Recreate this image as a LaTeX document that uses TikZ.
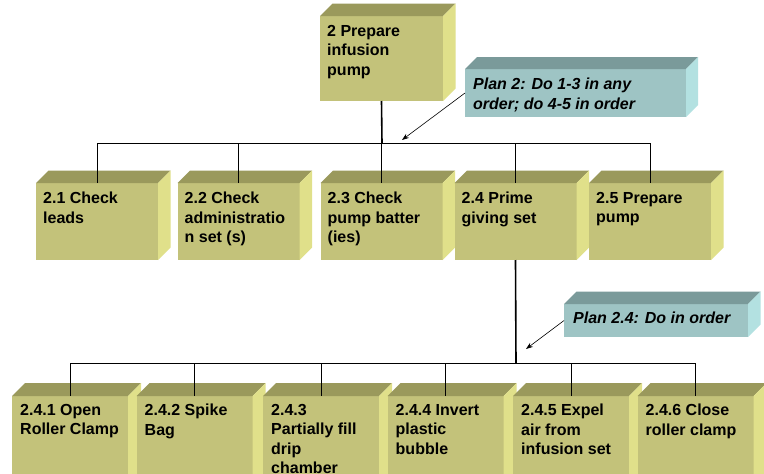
\documentclass[tikz,border=0pt]{standalone}
\usepackage{fontspec}
\setmainfont{Liberation Sans}
\usetikzlibrary{arrows.meta}
\definecolor{olfront}{HTML}{C3C27A}
\definecolor{oltop}{HTML}{9A995C}
\definecolor{olside}{HTML}{E0E08A}
\definecolor{plfront}{HTML}{9EC4C4}
\definecolor{pltop}{HTML}{7A9A9A}
\definecolor{plside}{HTML}{B3E1E1}
\tikzset{
  face/.style={rectangle, inner sep=0pt, outer sep=0pt, draw=none},
  lbl/.style={inner sep=0pt, anchor=north west, align=left, font=\bfseries\fontsize{16}{19.5}\selectfont},
  plbl/.style={lbl, font=\bfseries\itshape\fontsize{16}{19.5}\selectfont},
  link/.style={line width=0.8pt, black},
  trunk/.style={line width=1.6pt, black},
  callout/.style={line width=0.6pt, black, -{Stealth[length=7pt,width=5pt]}},
}
% \tabox{name}{cx}{cy}{w}{h}{front}{top}{side}{depth}
\newcommand\tabox[9]{%
  \node[face, fill=#6, minimum width=#4pt, minimum height=#5pt] (#1) at (#2,#3) {};
  \fill[#7] (#1.north west) -- ++(#9,-#9) -- ++(#4,0) -- (#1.north east) -- cycle;
  \fill[#8] (#1.north east) -- ++(#9,-#9) -- ++(0,#5) -- (#1.south east) -- cycle;
}
\begin{document}
\begin{tikzpicture}[x=1pt,y=-1pt]
\useasboundingbox (0,0) rectangle (764,474);
\clip (0,0) rectangle (764,474);
\fill[white] (0,0) rectangle (764,474);

% top box
\tabox{top}{381.5}{58.5}{123}{85}{olfront}{oltop}{olside}{12.5}
\node[lbl] (topt) at ([xshift=7pt,yshift=-9pt]top.north west) {2 Prepare\\infusion\\pump};

% plan 2
\tabox{plan2}{575.5}{93}{221}{48}{plfront}{pltop}{plside}{12}
\node[plbl] (plan2t) at ([xshift=8pt,yshift=-9pt]plan2.north west) {Plan 2: Do 1-3 in any\\order; do 4-5 in order};

% row 1
\tabox{c21}{97}{221.5}{122}{77}{olfront}{oltop}{olside}{12.5}
\tabox{c22}{238.5}{221.5}{122}{77}{olfront}{oltop}{olside}{12.5}
\tabox{c23}{381.5}{221.5}{122}{77}{olfront}{oltop}{olside}{12.5}
\tabox{c24}{515.5}{221.5}{122}{77}{olfront}{oltop}{olside}{12.5}
\tabox{c25}{650}{221.5}{122}{77}{olfront}{oltop}{olside}{12.5}
\node[lbl] (c21t) at ([xshift=7pt,yshift=-9pt]c21.north west) {2.1 Check\\leads};
\node[lbl] (c22t) at ([xshift=7pt,yshift=-9pt]c22.north west) {2.2 Check\\administratio\\n set (s)};
\node[lbl] (c23t) at ([xshift=7pt,yshift=-9pt]c23.north west) {2.3 Check\\pump batter\\(ies)};
\node[lbl] (c24t) at ([xshift=7pt,yshift=-9pt]c24.north west) {2.4 Prime\\giving set};
\node[lbl] (c25t) at ([xshift=7pt,yshift=-9pt]c25.north west) {2.5 Prepare\\pump};

% plan 2.4
\tabox{plan24}{656}{320.5}{184}{33}{plfront}{pltop}{plside}{12.5}
\node[plbl] (plan24t) at ([xshift=9pt,yshift=-8pt]plan24.north west) {Plan 2.4: Do in order};

% row 2
\tabox{d1}{70}{441}{116}{90}{olfront}{oltop}{olside}{13}
\tabox{d2}{194.5}{441}{116}{90}{olfront}{oltop}{olside}{13}
\tabox{d3}{321}{441}{116}{90}{olfront}{oltop}{olside}{13}
\tabox{d4}{445.5}{441}{116}{90}{olfront}{oltop}{olside}{13}
\tabox{d5}{571}{441}{116}{90}{olfront}{oltop}{olside}{13}
\tabox{d6}{695.5}{441}{116}{90}{olfront}{oltop}{olside}{13}
\node[lbl] (d1t) at ([xshift=8pt,yshift=-8pt]d1.north west) {2.4.1 Open\\Roller Clamp};
\node[lbl] (d2t) at ([xshift=8pt,yshift=-8pt]d2.north west) {2.4.2 Spike\\Bag};
\node[lbl] (d3t) at ([xshift=8pt,yshift=-8pt]d3.north west) {2.4.3\\Partially fill\\drip\\chamber};
\node[lbl] (d4t) at ([xshift=8pt,yshift=-8pt]d4.north west) {2.4.4 Invert\\plastic\\bubble};
\node[lbl] (d5t) at ([xshift=8pt,yshift=-8pt]d5.north west) {2.4.5 Expel\\air from\\infusion set};
\node[lbl] (d6t) at ([xshift=8pt,yshift=-8pt]d6.north west) {2.4.6 Close\\roller clamp};

% connectors level 1
\coordinate (j1) at (382,143);
\draw[trunk] (top.south) -- (j1);
\foreach \c in {c21,c22,c23,c24,c25} \draw[link] (j1) -| (\c.north);

% connectors level 2
\coordinate (j2) at (516,363);
\draw[trunk] (c24.south) -- (j2);
\foreach \d in {d1,d2,d3,d4,d5,d6} \draw[link] (j2) -| (\d.north);

% plan callouts
\coordinate (a1) at (402,140);
\coordinate (a2) at (526,349);
\draw[callout] (plan2.west) -- (a1);
\draw[callout] (plan24.west) -- (a2);
\end{tikzpicture}
\end{document}
